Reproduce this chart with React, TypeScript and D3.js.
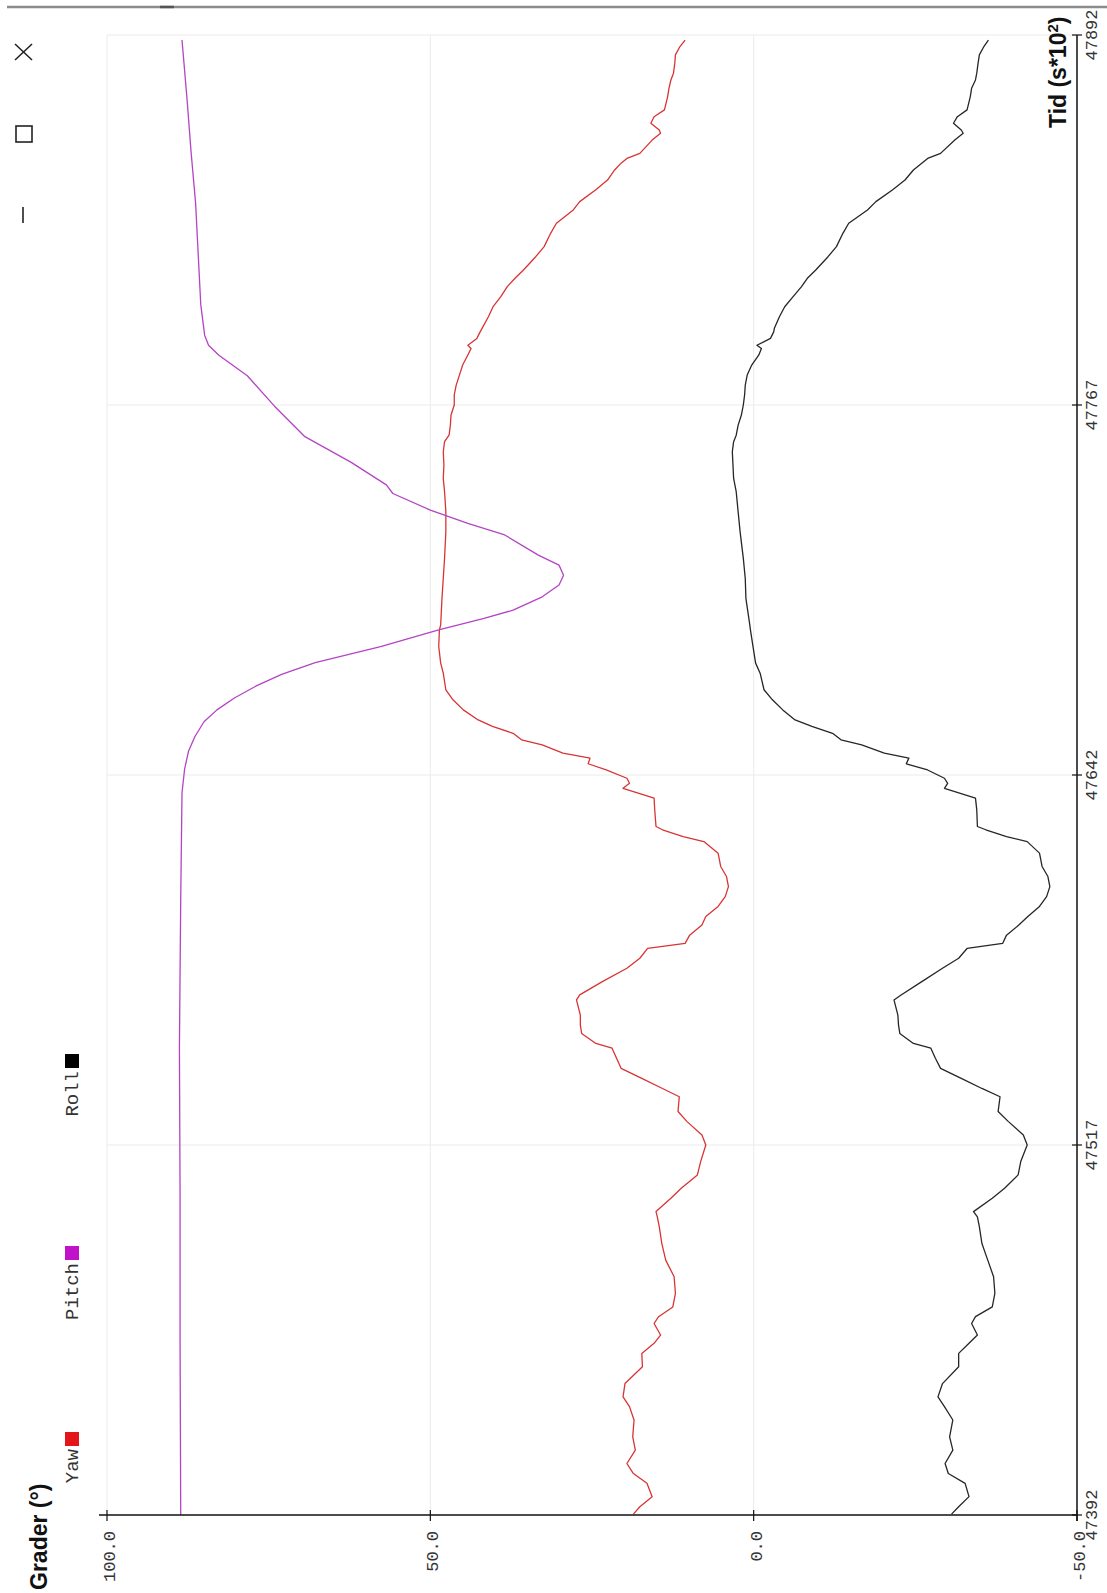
import React from 'react';
import * as d3 from 'd3';

// ---------- data ----------
const timeTicks = [47392, 47517, 47642, 47767, 47892];
const valueTicks = [100, 50, 0, -50];
const seriesNames = ['Yaw', 'Pitch', 'Roll'];
const legendColors = ['#e3141a', '#c012c8', '#000000'];
const lineColors = ['#d83434', '#b444c4', '#262626'];

const yawRollTime = [
  47890.3, 47888.1, 47885.3, 47882.4, 47879.1, 47876.8, 47874.0, 47871.2, 47866.7, 47864.4,
  47862.2, 47859.9, 47858.8, 47856.5, 47852.0, 47850.3, 47848.7, 47846.4, 47843.0, 47839.7,
  47835.7, 47832.9, 47828.4, 47825.0, 47820.5, 47817.1, 47812.6, 47809.8, 47807.0, 47803.6,
  47800.2, 47796.9, 47792.9, 47791.7, 47789.5, 47787.2, 47786.1, 47783.9, 47780.5, 47777.1,
  47773.7, 47770.4, 47767.0, 47763.6, 47760.2, 47756.8, 47754.6, 47751.2, 47746.7, 47742.2,
  47737.7, 47730.9, 47724.2, 47715.2, 47708.4, 47701.7, 47692.7, 47691.0, 47685.4, 47679.8,
  47676.4, 47670.8, 47667.4, 47664.0, 47660.6, 47658.4, 47656.1, 47653.9, 47652.2, 47649.4,
  47647.7, 47645.8, 47643.7, 47640.9, 47639.2, 47637.5, 47636.4, 47634.2, 47630.2, 47624.6,
  47623.5, 47621.2, 47619.5, 47615.6, 47611.1, 47607.7, 47604.3, 47600.9, 47597.6, 47594.2,
  47591.3, 47587.9, 47585.1, 47583.4, 47580.1, 47576.7, 47572.2, 47567.7, 47566.0, 47560.9,
  47557.5, 47554.7, 47551.3, 47549.7, 47546.3, 47542.9, 47539.5, 47536.1, 47533.3, 47528.3,
  47524.9, 47520.4, 47517.0, 47511.4, 47506.9, 47502.4, 47499.0, 47494.5, 47492.7, 47489.4,
  47483.7, 47478.1, 47472.5, 47466.9, 47462.3, 47459.0, 47456.7, 47452.8, 47450.0, 47446.6,
  47442.1, 47436.4, 47431.9, 47428.6, 47424.1, 47418.4, 47413.9, 47409.4, 47406.0, 47402.7,
  47398.2, 47394.8, 47392.3,
];

const yawValues = [
  10.6, 11.4, 12.1, 12.2, 12.4, 12.8, 13.1, 13.3, 13.8, 15.4,
  15.9, 14.6, 14.4, 15.7, 17.6, 19.6, 20.5, 21.5, 22.6, 24.4,
  26.9, 27.9, 30.5, 31.4, 32.4, 33.7, 35.6, 36.9, 38.1, 39.1,
  40.3, 41.0, 42.0, 42.3, 42.8, 44.2, 43.7, 44.2, 45.0, 45.5,
  46.0, 46.3, 46.3, 46.8, 46.9, 47.1, 47.8, 48.0, 47.9, 48.0,
  47.8, 47.6, 47.6, 47.8, 48.0, 48.2, 48.4, 48.6, 48.7, 48.4,
  48.0, 47.6, 46.5, 44.9, 42.6, 40.4, 37.2, 35.9, 32.7, 29.5,
  25.3, 25.6, 22.8, 19.6, 19.2, 20.2, 18.6, 15.4, 15.3, 15.1,
  14.1, 10.9, 7.7, 5.5, 5.1, 4.2, 3.9, 4.4, 5.5, 7.4,
  8.0, 9.9, 10.6, 16.4, 17.6, 19.6, 23.4, 26.9, 27.4, 26.8,
  26.8, 26.6, 24.4, 21.9, 21.2, 20.5, 17.3, 14.1, 11.5, 11.7,
  10.3, 8.0, 7.4, 8.2, 8.7, 11.2, 12.8, 15.1, 14.9, 14.6,
  14.2, 13.6, 12.3, 12.1, 12.5, 14.7, 15.4, 14.4, 15.4, 17.3,
  17.2, 19.9, 20.2, 19.2, 18.5, 18.7, 18.3, 19.6, 18.6, 16.5,
  15.7, 17.6, 18.6,
];

const rollValues = [
  -36.3, -35.6, -34.9, -34.7, -34.5, -34.3, -33.7, -33.5, -33.0, -31.5,
  -30.9, -32.1, -32.4, -31.1, -28.9, -26.9, -26.0, -24.7, -23.4, -21.5,
  -18.9, -17.6, -14.7, -13.8, -12.8, -11.5, -9.6, -8.3, -7.4, -6.1,
  -4.8, -4.0, -3.2, -3.1, -2.6, -0.5, -1.2, -0.8, 0.3, 1.0,
  1.3, 1.4, 1.6, 1.9, 2.4, 2.7, 3.1, 3.3, 3.2, 3.1,
  2.7, 2.4, 2.1, 1.6, 1.3, 1.2, 0.6, 0.5, 0.1, -0.3,
  -1.0, -1.6, -2.9, -4.5, -6.4, -9.0, -12.2, -13.5, -16.7, -20.2,
  -24.0, -23.6, -26.9, -29.5, -30.0, -29.5, -31.1, -34.3, -34.5, -34.6,
  -35.9, -39.1, -42.3, -44.2, -44.6, -45.5, -45.8, -45.3, -44.2, -42.4,
  -41.0, -39.1, -38.5, -33.0, -31.7, -29.2, -26.0, -22.8, -21.7, -22.3,
  -22.4, -22.6, -24.7, -27.4, -28.1, -28.9, -32.1, -35.3, -38.1, -37.8,
  -39.4, -41.7, -42.3, -41.3, -40.9, -38.8, -36.9, -34.0, -34.6, -34.9,
  -35.3, -36.2, -37.1, -37.3, -36.9, -34.3, -33.7, -34.6, -33.3, -31.7,
  -31.7, -29.2, -28.5, -29.5, -30.8, -30.3, -30.8, -29.6, -30.1, -32.7,
  -33.3, -31.7, -30.6,
];

const pitchTime = [
  47392, 47450, 47500, 47550, 47600, 47636, 47644, 47650, 47655, 47660,
  47664, 47668, 47672, 47676, 47680, 47685.4, 47691.0, 47694.9, 47697.7, 47702.2,
  47706.2, 47709.5, 47712.9, 47716.3, 47723.1, 47727.0, 47731.5, 47737.1, 47740.0, 47747.7,
  47756.3, 47766.6, 47776.9, 47783.8, 47787.2, 47790.6, 47800.9, 47818.1, 47835.3, 47852.5,
  47869.7, 47890.3,
];
const pitchValues = [
  88.6, 88.7, 88.7, 88.8, 88.6, 88.4, 88.0, 87.4, 86.4, 85.0,
  83.0, 80.3, 77.0, 73.0, 67.8, 57.7, 48.7, 41.7, 37.2, 32.7,
  30.1, 29.4, 30.1, 33.3, 38.5, 44.2, 50.0, 55.8, 56.8, 62.3,
  69.4, 74.1, 78.3, 82.7, 84.3, 84.9, 85.5, 85.9, 86.3, 87.0,
  87.6, 88.4,
];

// ---------- component ----------
export default function App() {
  const W = 1107;
  const H = 1593;
  const left = 107, right = 1077, top = 35, bottom = 1515;

  const xV = d3.scaleLinear().domain([100, -50]).range([left, right]);
  const yT = d3.scaleLinear().domain([47392, 47892]).range([bottom, top]);

  const line = d3
    .line<[number, number]>()
    .x((d) => xV(d[1]))
    .y((d) => yT(d[0]));

  const yawPts = yawRollTime.map((t, i) => [t, yawValues[i]] as [number, number]);
  const rollPts = yawRollTime.map((t, i) => [t, rollValues[i]] as [number, number]);
  const pitchPts = pitchTime.map((t, i) => [t, pitchValues[i]] as [number, number]);
  const seriesPts = [yawPts, pitchPts, rollPts];

  const mono = '"Liberation Mono", "Courier New", monospace';
  const sans = '"Liberation Sans", Arial, Helvetica, sans-serif';

  const legendSquareY = [1432, 1246, 1054];
  const sq = 14;

  return (
    <svg
      width={W}
      height={H}
      style={{ position: 'absolute', left: 0, top: 0, background: '#fff' }}
    >
      <rect x={0} y={0} width={W} height={H} fill="#ffffff" />
      {/* window frame line */}
      <line x1={7} x2={W} y1={7} y2={7} stroke="#8c8c8c" strokeWidth={2.5} />
      <line x1={160} x2={174} y1={7} y2={7} stroke="#555" strokeWidth={2.5} />

      {/* window controls (rotated) */}
      <g stroke="#222" strokeWidth={1.6} fill="none">
        <line x1={15} y1={44} x2={32} y2={60} />
        <line x1={32} y1={44} x2={15} y2={60} />
        <rect x={16} y={126} width={16} height={16} />
        <line x1={23} y1={207} x2={23} y2={223} />
      </g>

      {/* gridlines */}
      <g stroke="#ebebeb" strokeWidth={1}>
        {valueTicks.slice(0, 3).map((v) => (
          <line key={'gv' + v} x1={xV(v)} x2={xV(v)} y1={top} y2={bottom} />
        ))}
        {timeTicks.slice(1).map((t) => (
          <line key={'gt' + t} x1={left} x2={right} y1={yT(t)} y2={yT(t)} />
        ))}
      </g>

      {/* series */}
      {seriesPts.map((pts, i) => (
        <path
          key={seriesNames[i]}
          d={line(pts) || ''}
          fill="none"
          stroke={lineColors[i]}
          strokeWidth={1.3}
          strokeLinejoin="round"
        />
      ))}

      {/* axes */}
      <line x1={99} x2={right} y1={bottom} y2={bottom} stroke="#111" strokeWidth={1.5} />
      <line x1={right} x2={right} y1={top} y2={bottom + 6} stroke="#111" strokeWidth={1.5} />
      {valueTicks.map((v) => (
        <g key={'vt' + v}>
          <line x1={xV(v)} x2={xV(v)} y1={bottom - 5} y2={bottom + 6} stroke="#111" strokeWidth={1.2} />
          <text
            transform={`translate(${xV(v) + 8},${bottom + 16}) rotate(-90)`}
            textAnchor="end"
            fontFamily={mono}
            fontSize={17}
            fill="#333"
          >
            {v.toFixed(1)}
          </text>
        </g>
      ))}
      {timeTicks.map((t) => (
        <g key={'tt' + t}>
          <line x1={right - 5} x2={right + 5} y1={yT(t)} y2={yT(t)} stroke="#111" strokeWidth={1.2} />
          <text
            transform={`translate(${right + 20},${yT(t)}) rotate(-90)`}
            textAnchor="middle"
            fontFamily={mono}
            fontSize={17}
            fill="#333"
          >
            {t}
          </text>
        </g>
      ))}

      {/* axis titles */}
      <text
        transform={`translate(47,1590) rotate(-90)`}
        fontFamily={sans}
        fontWeight="bold"
        fontSize={23}
        fill="#111"
      >
        Grader (°)
      </text>
      <text
        transform={`translate(1066,128) rotate(-90)`}
        fontFamily={sans}
        fontWeight="bold"
        fontSize={23}
        fill="#111"
      >
        Tid (s*10
        <tspan baselineShift="super" fontSize={15}>2</tspan>)
      </text>

      {/* legend */}
      {seriesNames.map((name, i) => (
        <g key={'lg' + name}>
          <rect x={65} y={legendSquareY[i]} width={sq} height={sq} fill={legendColors[i]} />
          <text
            transform={`translate(78,${legendSquareY[i] + sq + 3}) rotate(-90)`}
            textAnchor="end"
            fontFamily={mono}
            fontSize={19}
            fill="#333"
          >
            {name}
          </text>
        </g>
      ))}
    </svg>
  );
}
